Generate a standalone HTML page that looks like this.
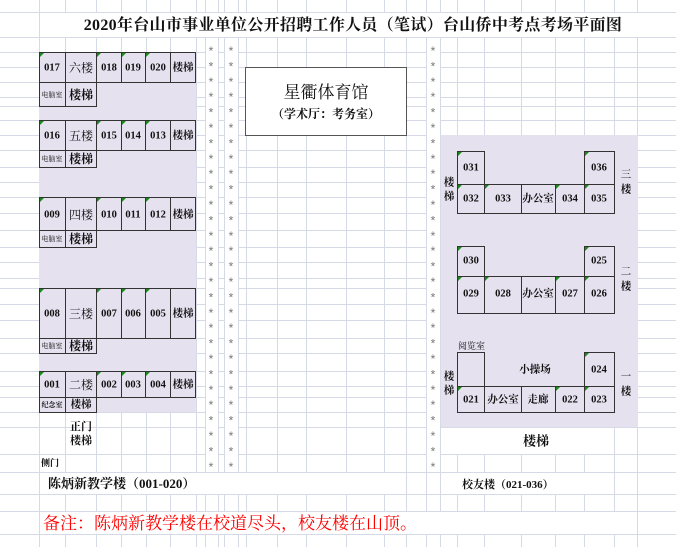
<!DOCTYPE html>
<html><head><meta charset="utf-8"><style>
body{margin:0;width:676px;height:547px;overflow:hidden;background:#fff}
svg{display:block}
text{font-family:"Liberation Serif","Noto Serif CJK SC",serif;font-weight:bold;fill:#111}
.c{font-size:10.5px;text-anchor:middle;dominant-baseline:central}
.s{font-size:7px;text-anchor:middle;dominant-baseline:central;font-weight:normal}
.st text,.st tspan{font-size:12px;fill:#777;text-anchor:middle;font-weight:normal;font-family:"Liberation Sans",sans-serif}
.cell{fill:#e5e1ee;stroke:#333;stroke-width:1}
.g{stroke:#d6d9e6;stroke-width:1}
.tri{fill:#1a8a1a}
</style></head><body>
<svg width="676" height="547" viewBox="0 0 676 547" xmlns="http://www.w3.org/2000/svg">
<g class="g">
<line x1="0" y1="12.5" x2="676" y2="12.5"/><line x1="0" y1="37.5" x2="676" y2="37.5"/><line x1="0" y1="52.5" x2="676" y2="52.5"/><line x1="0" y1="67.5" x2="676" y2="67.5"/><line x1="0" y1="82.5" x2="676" y2="82.5"/><line x1="0" y1="97.5" x2="676" y2="97.5"/><line x1="0" y1="106.5" x2="676" y2="106.5"/><line x1="0" y1="120.5" x2="676" y2="120.5"/><line x1="0" y1="135.5" x2="676" y2="135.5"/><line x1="0" y1="150.5" x2="676" y2="150.5"/><line x1="0" y1="167.5" x2="676" y2="167.5"/><line x1="0" y1="182.5" x2="676" y2="182.5"/><line x1="0" y1="197.5" x2="676" y2="197.5"/><line x1="0" y1="213.5" x2="676" y2="213.5"/><line x1="0" y1="230.5" x2="676" y2="230.5"/><line x1="0" y1="247.5" x2="676" y2="247.5"/><line x1="0" y1="262.5" x2="676" y2="262.5"/><line x1="0" y1="278.5" x2="676" y2="278.5"/><line x1="0" y1="288.5" x2="676" y2="288.5"/><line x1="0" y1="304.5" x2="676" y2="304.5"/><line x1="0" y1="320.5" x2="676" y2="320.5"/><line x1="0" y1="338.5" x2="676" y2="338.5"/><line x1="0" y1="353.5" x2="676" y2="353.5"/><line x1="0" y1="371.5" x2="676" y2="371.5"/><line x1="0" y1="386.5" x2="676" y2="386.5"/><line x1="0" y1="397.5" x2="676" y2="397.5"/><line x1="0" y1="412.5" x2="676" y2="412.5"/><line x1="0" y1="427.5" x2="676" y2="427.5"/><line x1="0" y1="454.5" x2="676" y2="454.5"/><line x1="0" y1="472.5" x2="676" y2="472.5"/><line x1="0" y1="494.5" x2="676" y2="494.5"/><line x1="0" y1="511.5" x2="676" y2="511.5"/><line x1="0" y1="534.5" x2="676" y2="534.5"/>
<line x1="39.5" y1="0" x2="39.5" y2="547"/><line x1="65.5" y1="0" x2="65.5" y2="547"/><line x1="96.5" y1="0" x2="96.5" y2="547"/><line x1="121.5" y1="0" x2="121.5" y2="547"/><line x1="146.5" y1="0" x2="146.5" y2="547"/><line x1="170.5" y1="0" x2="170.5" y2="547"/><line x1="196.5" y1="0" x2="196.5" y2="547"/><line x1="205.5" y1="0" x2="205.5" y2="547"/><line x1="218.5" y1="0" x2="218.5" y2="547"/><line x1="224.5" y1="0" x2="224.5" y2="547"/><line x1="238.5" y1="0" x2="238.5" y2="547"/><line x1="246.5" y1="0" x2="246.5" y2="547"/><line x1="277.5" y1="0" x2="277.5" y2="547"/><line x1="306.5" y1="0" x2="306.5" y2="547"/><line x1="346.5" y1="0" x2="346.5" y2="547"/><line x1="384.5" y1="0" x2="384.5" y2="547"/><line x1="406.5" y1="0" x2="406.5" y2="547"/><line x1="426.5" y1="0" x2="426.5" y2="547"/><line x1="440.5" y1="0" x2="440.5" y2="547"/><line x1="457.5" y1="0" x2="457.5" y2="547"/><line x1="484.5" y1="0" x2="484.5" y2="547"/><line x1="521.5" y1="0" x2="521.5" y2="547"/><line x1="555.5" y1="0" x2="555.5" y2="547"/><line x1="584.5" y1="0" x2="584.5" y2="547"/><line x1="614.5" y1="0" x2="614.5" y2="547"/><line x1="637.5" y1="0" x2="637.5" y2="547"/>
</g>
<rect x="40" y="13" width="636" height="24" fill="#fff"/>
<rect x="40" y="473" width="365" height="21" fill="#fff"/>
<rect x="441" y="473" width="173" height="21" fill="#fff"/>
<rect x="40" y="512" width="595" height="22" fill="#fff"/>
<rect x="457" y="428" width="157" height="26" fill="#fff"/>
<text x="353" y="30" style="font-size:16px;text-anchor:middle;font-weight:bold;letter-spacing:0.3px">2020年台山市事业单位公开招聘工作人员（笔试）台山侨中考点考场平面图</text>
<rect x="39" y="52" width="157" height="360" fill="#e5e1ee"/>
<rect x="441" y="135" width="197" height="292" fill="#e5e1ee"/>
<rect x="206" y="40" width="12" height="430" fill="#fff"/><rect x="225" y="40" width="13" height="430" fill="#fff"/><rect x="427" y="40" width="13" height="430" fill="#fff"/>
<g class="st">
<text x="211" y="55">*<tspan x="211" dy="15.4">*</tspan><tspan x="211" dy="15.4">*</tspan><tspan x="211" dy="15.4">*</tspan><tspan x="211" dy="15.4">*</tspan><tspan x="211" dy="15.4">*</tspan><tspan x="211" dy="15.4">*</tspan><tspan x="211" dy="15.4">*</tspan><tspan x="211" dy="15.4">*</tspan><tspan x="211" dy="15.4">*</tspan><tspan x="211" dy="15.4">*</tspan><tspan x="211" dy="15.4">*</tspan><tspan x="211" dy="15.4">*</tspan><tspan x="211" dy="15.4">*</tspan><tspan x="211" dy="15.4">*</tspan><tspan x="211" dy="15.4">*</tspan><tspan x="211" dy="15.4">*</tspan><tspan x="211" dy="15.4">*</tspan><tspan x="211" dy="15.4">*</tspan><tspan x="211" dy="15.4">*</tspan><tspan x="211" dy="15.4">*</tspan><tspan x="211" dy="15.4">*</tspan><tspan x="211" dy="15.4">*</tspan><tspan x="211" dy="15.4">*</tspan><tspan x="211" dy="15.4">*</tspan><tspan x="211" dy="15.4">*</tspan><tspan x="211" dy="15.4">*</tspan><tspan x="211" dy="15.4">*</tspan></text>
<text x="231" y="55">*<tspan x="231" dy="15.4">*</tspan><tspan x="231" dy="15.4">*</tspan><tspan x="231" dy="15.4">*</tspan><tspan x="231" dy="15.4">*</tspan><tspan x="231" dy="15.4">*</tspan><tspan x="231" dy="15.4">*</tspan><tspan x="231" dy="15.4">*</tspan><tspan x="231" dy="15.4">*</tspan><tspan x="231" dy="15.4">*</tspan><tspan x="231" dy="15.4">*</tspan><tspan x="231" dy="15.4">*</tspan><tspan x="231" dy="15.4">*</tspan><tspan x="231" dy="15.4">*</tspan><tspan x="231" dy="15.4">*</tspan><tspan x="231" dy="15.4">*</tspan><tspan x="231" dy="15.4">*</tspan><tspan x="231" dy="15.4">*</tspan><tspan x="231" dy="15.4">*</tspan><tspan x="231" dy="15.4">*</tspan><tspan x="231" dy="15.4">*</tspan><tspan x="231" dy="15.4">*</tspan><tspan x="231" dy="15.4">*</tspan><tspan x="231" dy="15.4">*</tspan><tspan x="231" dy="15.4">*</tspan><tspan x="231" dy="15.4">*</tspan><tspan x="231" dy="15.4">*</tspan><tspan x="231" dy="15.4">*</tspan></text>
<text x="433" y="55">*<tspan x="433" dy="15.4">*</tspan><tspan x="433" dy="15.4">*</tspan><tspan x="433" dy="15.4">*</tspan><tspan x="433" dy="15.4">*</tspan><tspan x="433" dy="15.4">*</tspan><tspan x="433" dy="15.4">*</tspan><tspan x="433" dy="15.4">*</tspan><tspan x="433" dy="15.4">*</tspan><tspan x="433" dy="15.4">*</tspan><tspan x="433" dy="15.4">*</tspan><tspan x="433" dy="15.4">*</tspan><tspan x="433" dy="15.4">*</tspan><tspan x="433" dy="15.4">*</tspan><tspan x="433" dy="15.4">*</tspan><tspan x="433" dy="15.4">*</tspan><tspan x="433" dy="15.4">*</tspan><tspan x="433" dy="15.4">*</tspan><tspan x="433" dy="15.4">*</tspan><tspan x="433" dy="15.4">*</tspan><tspan x="433" dy="15.4">*</tspan><tspan x="433" dy="15.4">*</tspan><tspan x="433" dy="15.4">*</tspan><tspan x="433" dy="15.4">*</tspan><tspan x="433" dy="15.4">*</tspan><tspan x="433" dy="15.4">*</tspan><tspan x="433" dy="15.4">*</tspan><tspan x="433" dy="15.4">*</tspan></text>
</g>
<rect x="245.5" y="67.5" width="161" height="68" fill="#fff" stroke="#555" stroke-width="1"/>
<text x="326" y="98" style="font-size:17px;text-anchor:middle;font-weight:normal">星衢体育馆</text>
<text x="326" y="118" style="font-size:12px;text-anchor:middle">（学术厅：考务室）</text>

<g>
<rect class="cell" x="39.5" y="52.5" width="26" height="30"/><rect class="cell" x="65.5" y="52.5" width="31" height="30"/><rect class="cell" x="96.5" y="52.5" width="25" height="30"/><rect class="cell" x="121.5" y="52.5" width="24" height="30"/><rect class="cell" x="145.5" y="52.5" width="25" height="30"/><rect class="cell" x="170.5" y="52.5" width="25" height="30"/>
<rect class="cell" x="39.5" y="82.5" width="26" height="24"/><rect class="cell" x="65.5" y="82.5" width="31" height="24"/>
<text class="c" x="52" y="68">017</text><text class="c" x="81" y="68" style="font-size:12px;font-weight:normal">六楼</text><text class="c" x="109" y="68">018</text><text class="c" x="133" y="68">019</text><text class="c" x="158" y="68">020</text><text class="c" x="183" y="68">楼梯</text>
<text class="s" x="52" y="95">电脑室</text><text class="c" x="81" y="95" style="font-size:12px">楼梯</text>
</g>
<g>
<rect class="cell" x="39.5" y="120.5" width="26" height="30"/><rect class="cell" x="65.5" y="120.5" width="31" height="30"/><rect class="cell" x="96.5" y="120.5" width="25" height="30"/><rect class="cell" x="121.5" y="120.5" width="24" height="30"/><rect class="cell" x="145.5" y="120.5" width="25" height="30"/><rect class="cell" x="170.5" y="120.5" width="25" height="30"/>
<rect class="cell" x="39.5" y="150.5" width="26" height="17"/><rect class="cell" x="65.5" y="150.5" width="31" height="17"/>
<text class="c" x="52" y="136">016</text><text class="c" x="81" y="136" style="font-size:12px;font-weight:normal">五楼</text><text class="c" x="109" y="136">015</text><text class="c" x="133" y="136">014</text><text class="c" x="158" y="136">013</text><text class="c" x="183" y="136">楼梯</text>
<text class="s" x="52" y="159">电脑室</text><text class="c" x="81" y="159" style="font-size:12px">楼梯</text>
</g>
<g>
<rect class="cell" x="39.5" y="197.5" width="26" height="33"/><rect class="cell" x="65.5" y="197.5" width="31" height="33"/><rect class="cell" x="96.5" y="197.5" width="25" height="33"/><rect class="cell" x="121.5" y="197.5" width="24" height="33"/><rect class="cell" x="145.5" y="197.5" width="25" height="33"/><rect class="cell" x="170.5" y="197.5" width="25" height="33"/>
<rect class="cell" x="39.5" y="230.5" width="26" height="17"/><rect class="cell" x="65.5" y="230.5" width="31" height="17"/>
<text class="c" x="52" y="215">009</text><text class="c" x="81" y="215" style="font-size:12px;font-weight:normal">四楼</text><text class="c" x="109" y="215">010</text><text class="c" x="133" y="215">011</text><text class="c" x="158" y="215">012</text><text class="c" x="183" y="215">楼梯</text>
<text class="s" x="52" y="239">电脑室</text><text class="c" x="81" y="239" style="font-size:12px">楼梯</text>
</g>
<g>
<rect class="cell" x="39.5" y="288.5" width="26" height="50"/><rect class="cell" x="65.5" y="288.5" width="31" height="50"/><rect class="cell" x="96.5" y="288.5" width="25" height="50"/><rect class="cell" x="121.5" y="288.5" width="24" height="50"/><rect class="cell" x="145.5" y="288.5" width="25" height="50"/><rect class="cell" x="170.5" y="288.5" width="25" height="50"/>
<rect class="cell" x="39.5" y="338.5" width="26" height="15"/><rect class="cell" x="65.5" y="338.5" width="31" height="15"/>
<text class="c" x="52" y="314">008</text><text class="c" x="81" y="314" style="font-size:12px;font-weight:normal">三楼</text><text class="c" x="109" y="314">007</text><text class="c" x="133" y="314">006</text><text class="c" x="158" y="314">005</text><text class="c" x="183" y="314">楼梯</text>
<text class="s" x="52" y="346">电脑室</text><text class="c" x="81" y="346" style="font-size:12px">楼梯</text>
</g>
<g>
<rect class="cell" x="39.5" y="371.5" width="26" height="26"/><rect class="cell" x="65.5" y="371.5" width="31" height="26"/><rect class="cell" x="96.5" y="371.5" width="25" height="26"/><rect class="cell" x="121.5" y="371.5" width="24" height="26"/><rect class="cell" x="145.5" y="371.5" width="25" height="26"/><rect class="cell" x="170.5" y="371.5" width="25" height="26"/>
<rect class="cell" x="39.5" y="397.5" width="26" height="15"/><rect class="cell" x="65.5" y="397.5" width="31" height="15"/>
<text class="c" x="52" y="385">001</text><text class="c" x="81" y="385" style="font-size:12px;font-weight:normal">二楼</text><text class="c" x="109" y="385">002</text><text class="c" x="133" y="385">003</text><text class="c" x="158" y="385">004</text><text class="c" x="183" y="385">楼梯</text>
<text class="s" x="52" y="405" style="font-weight:bold">纪念室</text><text class="c" x="81" y="405">楼梯</text>
</g>
<text class="c" x="81" y="427" style="font-size:11px">正门</text>
<text class="c" x="81" y="441" style="font-size:11px">楼梯</text>
<text class="c" x="50" y="463" style="font-size:9px">侧门</text>
<text x="48" y="488" style="font-size:13px;font-weight:bold">陈炳新教学楼（001-020）</text>
<text x="43" y="529" style="font-size:17px;fill:#f00;font-weight:normal">备注：陈炳新教学楼在校道尽头，校友楼在山顶。</text>

<rect class="cell" x="457.5" y="151.5" width="27" height="33"/><rect class="cell" x="584.5" y="151.5" width="30" height="33"/>
<rect class="cell" x="457.5" y="184.5" width="27" height="29"/><rect class="cell" x="484.5" y="184.5" width="37" height="29"/><rect class="cell" x="521.5" y="184.5" width="34" height="29"/><rect class="cell" x="555.5" y="184.5" width="29" height="29"/><rect class="cell" x="584.5" y="184.5" width="30" height="29"/>
<text class="c" x="471" y="168">031</text><text class="c" x="599" y="168">036</text>
<text class="c" x="471" y="199">032</text><text class="c" x="503" y="199">033</text><text class="c" x="538" y="199">办公室</text><text class="c" x="570" y="199">034</text><text class="c" x="599" y="199">035</text>
<text class="c" x="449" y="183">楼</text><text class="c" x="449" y="197">梯</text>
<text class="c" x="626" y="175" style="font-weight:normal">三</text><text class="c" x="626" y="190">楼</text>
<rect class="cell" x="457.5" y="246.5" width="27" height="30"/><rect class="cell" x="584.5" y="246.5" width="30" height="30"/>
<rect class="cell" x="457.5" y="276.5" width="27" height="37"/><rect class="cell" x="484.5" y="276.5" width="37" height="37"/><rect class="cell" x="521.5" y="276.5" width="34" height="37"/><rect class="cell" x="555.5" y="276.5" width="29" height="37"/><rect class="cell" x="584.5" y="276.5" width="30" height="37"/>
<text class="c" x="471" y="261">030</text><text class="c" x="599" y="261">025</text>
<text class="c" x="471" y="294">029</text><text class="c" x="503" y="294">028</text><text class="c" x="538" y="294">办公室</text><text class="c" x="570" y="294">027</text><text class="c" x="599" y="294">026</text>
<text class="c" x="626" y="272" style="font-weight:normal">二</text><text class="c" x="626" y="287">楼</text>
<text x="458" y="349" style="font-size:9px;font-weight:normal">阅览室</text>
<rect class="cell" x="457.5" y="352.5" width="27" height="34"/><rect class="cell" x="584.5" y="352.5" width="30" height="34"/>
<rect class="cell" x="457.5" y="386.5" width="27" height="26"/><rect class="cell" x="484.5" y="386.5" width="37" height="26"/><rect class="cell" x="521.5" y="386.5" width="34" height="26"/><rect class="cell" x="555.5" y="386.5" width="29" height="26"/><rect class="cell" x="584.5" y="386.5" width="30" height="26"/>
<text class="c" x="535" y="370">小操场</text><text class="c" x="599" y="370">024</text>
<text class="c" x="471" y="400">021</text><text class="c" x="503" y="400">办公室</text><text class="c" x="538" y="400">走廊</text><text class="c" x="570" y="400">022</text><text class="c" x="599" y="400">023</text>
<text class="c" x="449" y="377">楼</text><text class="c" x="449" y="391">梯</text>
<text class="c" x="626" y="377" style="font-weight:normal">一</text><text class="c" x="626" y="392">楼</text>
<text class="c" x="536" y="441" style="font-size:13px">楼梯</text>
<text x="462" y="488" style="font-size:11px">校友楼（021-036）</text>

<g class="tri">
<polygon points="40,53 44,53 40,57"/><polygon points="97,53 101,53 97,57"/><polygon points="122,53 126,53 122,57"/><polygon points="146,53 150,53 146,57"/>
<polygon points="40,121 44,121 40,125"/><polygon points="97,121 101,121 97,125"/><polygon points="122,121 126,121 122,125"/><polygon points="146,121 150,121 146,125"/>
<polygon points="40,198 44,198 40,202"/><polygon points="97,198 101,198 97,202"/><polygon points="122,198 126,198 122,202"/><polygon points="146,198 150,198 146,202"/>
<polygon points="40,289 44,289 40,293"/><polygon points="97,289 101,289 97,293"/><polygon points="122,289 126,289 122,293"/><polygon points="146,289 150,289 146,293"/>
<polygon points="40,372 44,372 40,376"/><polygon points="97,372 101,372 97,376"/><polygon points="122,372 126,372 122,376"/><polygon points="146,372 150,372 146,376"/>
<polygon points="458,152 462,152 458,156"/><polygon points="585,152 589,152 585,156"/><polygon points="458,185 462,185 458,189"/><polygon points="485,185 489,185 485,189"/><polygon points="556,185 560,185 556,189"/><polygon points="585,185 589,185 585,189"/>
<polygon points="458,247 462,247 458,251"/><polygon points="585,247 589,247 585,251"/><polygon points="458,277 462,277 458,281"/><polygon points="485,277 489,277 485,281"/><polygon points="556,277 560,277 556,281"/><polygon points="585,277 589,277 585,281"/>
<polygon points="585,353 589,353 585,357"/><polygon points="458,387 462,387 458,391"/><polygon points="556,387 560,387 556,391"/><polygon points="585,387 589,387 585,391"/>
</g>
</svg>
</body></html>
